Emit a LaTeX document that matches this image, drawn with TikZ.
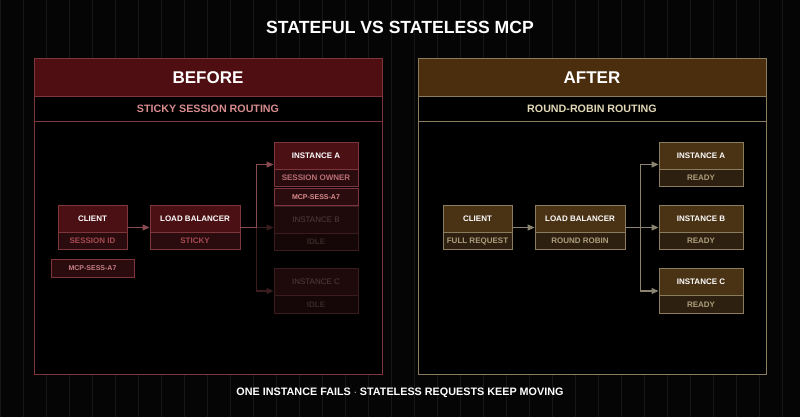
\documentclass[tikz,border=0pt]{standalone}
\usepackage{fontspec}
\setmainfont{Liberation Sans}
\usetikzlibrary{shapes.multipart,arrows.meta}

\definecolor{bgc}{HTML}{050505}
\definecolor{gridc}{HTML}{171717}
\definecolor{edgeL}{HTML}{7C363C}
\definecolor{panL}{HTML}{4E0E12}
\definecolor{hdL}{HTML}{4A1014}
\definecolor{sbL}{HTML}{2A0C0E}
\definecolor{subL}{HTML}{A84A52}
\definecolor{tagtxtL}{HTML}{C88088}
\definecolor{headL}{HTML}{D88C8E}
\definecolor{fedge}{HTML}{3A1C1E}
\definecolor{fhd}{HTML}{1E0A0B}
\definecolor{fsb}{HTML}{150607}
\definecolor{ftxt}{HTML}{4E3E3E}
\definecolor{fsubtxt}{HTML}{3A2828}
\definecolor{edgeR}{HTML}{8A7C5C}
\definecolor{panR}{HTML}{4A2E0E}
\definecolor{hdR}{HTML}{4A3214}
\definecolor{sbR}{HTML}{2E2010}
\definecolor{subR}{HTML}{AC9E7C}
\definecolor{headR}{HTML}{E2D8B6}
\definecolor{linkRc}{HTML}{8A8470}

% fixed-size cell: width, height, text
\newcommand\cell[3]{\makebox[#1pt]{\rule[\dimexpr 2.9pt-#2pt/2\relax]{0pt}{#2pt}#3}}

\tikzset{
  card/.style={rectangle split, rectangle split parts=2, draw=#1, line width=0.9pt,
    inner sep=0pt, text=white, font=\fontsize{8}{9.6}\selectfont\bfseries},
  cardL/.style={card=edgeL, rectangle split part fill={hdL,sbL}},
  cardR/.style={card=edgeR, rectangle split part fill={hdR,sbR}},
  cardF/.style={card=fedge, rectangle split part fill={fhd,fsb}, text=ftxt},
  tagL/.style={draw=edgeL, fill=sbL, line width=0.9pt, inner sep=0pt, text=tagtxtL,
    font=\fontsize{7}{8}\selectfont\bfseries},
  linkL/.style={draw=edgeL!90!white, line width=1.2pt, -{Triangle[length=7pt,width=6pt]}},
  linkF/.style={draw=fedge, line width=1.2pt, -{Triangle[length=7pt,width=6pt]}},
  linkR/.style={draw=linkRc, line width=1.2pt, -{Triangle[length=7pt,width=6pt]}},
}

\begin{document}
\begin{tikzpicture}[x=1pt,y=-1pt]
\useasboundingbox (0,0) rectangle (800,417);
\fill[bgc] (0,0) rectangle (800,417);
\draw[gridc, line width=0.6pt, step=23] (0,0) grid (800,417);

% title and footer
\node[text=white, font=\fontsize{17.6}{20}\selectfont\bfseries] (title) at (400,27) {STATEFUL VS STATELESS MCP};
\node[text=white, font=\fontsize{10.8}{12}\selectfont\bfseries] (footer) at (400,393) {ONE INSTANCE FAILS $\cdot$ STATELESS REQUESTS KEEP MOVING};

% before panel
\fill[black] (34,58) rectangle (382,374);
\draw[edgeL, line width=0.9pt, fill=panL] (34,58) rectangle (382,96);
\draw[edgeL, line width=0.9pt] (34,58) rectangle (382,374);
\draw[edgeL, line width=0.9pt] (34,121) -- (382,121);
\node[text=white, font=\fontsize{17}{20}\selectfont\bfseries] (beforeT) at (208,77.5) {BEFORE};
\node[text=headL, font=\fontsize{10.7}{13}\selectfont\bfseries] (beforeS) at (208,108.5) {STICKY SESSION ROUTING};

% after panel
\fill[black] (418,58) rectangle (766,374);
\draw[edgeR, line width=0.9pt, fill=panR] (418,58) rectangle (766,96);
\draw[edgeR, line width=0.9pt] (418,58) rectangle (766,374);
\draw[edgeR, line width=0.9pt] (418,121) -- (766,121);
\node[text=white, font=\fontsize{17}{20}\selectfont\bfseries] (afterT) at (592,77.5) {AFTER};
\node[text=headR, font=\fontsize{10.7}{13}\selectfont\bfseries] (afterS) at (592,108.5) {ROUND-ROBIN ROUTING};

% before: nodes
\node[cardL] (clientL) at (92.5,227.5) {\cell{69}{26}{CLIENT}\nodepart{two}\cell{69}{17}{\color{subL}SESSION ID}};
\node[tagL] (tokenL) at (92.5,268) {\cell{83}{18}{MCP-SESS-A7}};
\node[cardL] (lbL) at (195,227.5) {\cell{90}{26}{LOAD BALANCER}\nodepart{two}\cell{90}{17}{\color{subL}STICKY}};
\node[cardL] (instAL) at (316,164.5) {\cell{84}{26}{INSTANCE A}\nodepart{two}\cell{84}{17}{\color{subL!80!white}SESSION OWNER}};
\node[tagL, text=headL] (ownerL) at (316,197) {\cell{84}{17}{MCP-SESS-A7}};
\node[cardF] (instBL) at (316,228.5) {\cell{84}{26}{\mdseries INSTANCE B}\nodepart{two}\cell{84}{17}{\color{fsubtxt}IDLE}};
\node[cardF] (instCL) at (316,291) {\cell{84}{26}{\mdseries INSTANCE C}\nodepart{two}\cell{84}{17}{\color{fsubtxt}IDLE}};

% before: links
\path (lbL.east) ++(16,0) coordinate (forkL);
\draw[linkF] (forkL) -- (forkL -| instBL.west);
\draw[linkF] (forkL) |- (instCL.west);
\draw[linkL] (clientL.east) -- (lbL.west);
\draw[linkL] (lbL.east) -- (forkL) |- (instAL.west);

% after: nodes
\node[cardR] (clientR) at (477.5,227.5) {\cell{69}{26}{CLIENT}\nodepart{two}\cell{69}{17}{\color{subR}FULL REQUEST}};
\node[cardR] (lbR) at (580,227.5) {\cell{90}{26}{LOAD BALANCER}\nodepart{two}\cell{90}{17}{\color{subR}ROUND ROBIN}};
\node[cardR] (instAR) at (701,164.5) {\cell{84}{26}{INSTANCE A}\nodepart{two}\cell{84}{17}{\color{subR}READY}};
\node[cardR] (instBR) at (701,227.5) {\cell{84}{26}{INSTANCE B}\nodepart{two}\cell{84}{17}{\color{subR}READY}};
\node[cardR] (instCR) at (701,291) {\cell{84}{26}{INSTANCE C}\nodepart{two}\cell{84}{17}{\color{subR}READY}};

% after: links
\path (lbR.east) ++(15,0) coordinate (forkR);
\draw[linkR] (clientR.east) -- (lbR.west);
\draw[linkR] (lbR.east) -- (instBR.west);
\draw[linkR] (forkR) |- (instAR.west);
\draw[linkR] (forkR) |- (instCR.west);
\end{tikzpicture}
\end{document}
